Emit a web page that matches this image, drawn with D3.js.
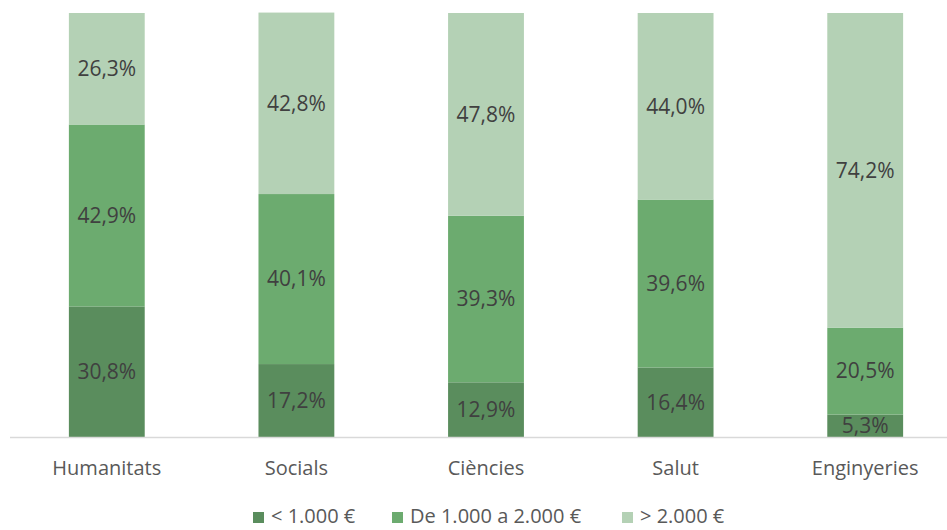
<!DOCTYPE html>
<html>
<head>
<meta charset="utf-8">
<script src="https://cdn.jsdelivr.net/npm/d3@7"></script>
<style>
  body { margin: 0; background: #fff; }
  text { font-family: "Open Sans", "Liberation Sans", sans-serif; }
</style>
</head>
<body>
<svg id="chart" width="947" height="530"></svg>
<script>
const categories = ["Humanitats", "Socials", "Ciències", "Salut", "Enginyeries"];
const seriesNames = ["< 1.000 €", "De 1.000 a 2.000 €", "> 2.000 €"];
const lowValues = [30.8, 17.2, 12.9, 16.4, 5.3];
const midValues = [42.9, 40.1, 39.3, 39.6, 20.5];
const highValues = [26.3, 42.8, 47.8, 44.0, 74.2];
const colors = ["#5a8d5d", "#6cab6f", "#b4d1b5"];

const svg = d3.select("#chart");
const baseY = 437, topY = 13;

const rows = categories.map((c, i) => ({
    cat: c, s0: lowValues[i], s1: midValues[i], s2: highValues[i]
}));
const stack = d3.stack().keys(["s0", "s1", "s2"]);
const series = stack(rows);

const x = d3.scaleBand().domain(categories).range([12, 960]).paddingInner(0.6).paddingOuter(0.3);
const y = d3.scaleLinear().domain([0, 100]).range([baseY, topY]);

const fmt = v => v.toFixed(1).replace(".", ",") + "%";

const groups = svg.append("g").selectAll("g")
    .data(series)
    .enter()
    .append("g")
    .attr("fill", (d, i) => colors[i]);

groups.selectAll("rect")
    .data(d => d)
    .enter()
    .append("rect")
    .attr("x", d => x(d.data.cat))
    .attr("width", x.bandwidth())
    .attr("y", d => y(d[1]))
    .attr("height", d => y(d[0]) - y(d[1]));

groups.selectAll("text")
    .data(d => d.map(v => ({ v, key: d.key })))
    .enter()
    .append("text")
    .attr("x", d => x(d.v.data.cat) + x.bandwidth() / 2)
    .attr("y", d => (y(d.v[0]) + y(d.v[1])) / 2)
    .attr("dy", "0.35em")
    .attr("text-anchor", "middle")
    .attr("fill", "#404040")
    .attr("font-size", 21)
    .text(d => fmt(d.v.data[d.key]));

// axis line
svg.append("line")
    .attr("x1", 10).attr("x2", 947)
    .attr("y1", baseY + 0.5).attr("y2", baseY + 0.5)
    .attr("stroke", "#d9d9d9").attr("stroke-width", 1.5);

// category labels
svg.append("g").selectAll("text")
    .data(categories)
    .enter()
    .append("text")
    .attr("x", d => x(d) + x.bandwidth() / 2)
    .attr("y", 468)
    .attr("dy", "0.35em")
    .attr("text-anchor", "middle")
    .attr("fill", "#595959")
    .attr("font-size", 20)
    .text(d => d);

// legend
const legendX = [253, 392, 622];
const legend = svg.append("g").selectAll("g")
    .data(seriesNames)
    .enter()
    .append("g")
    .attr("transform", (d, i) => `translate(${legendX[i]},517)`);
legend.append("rect")
    .attr("x", 0).attr("y", -5)
    .attr("width", 11).attr("height", 11)
    .attr("fill", (d, i) => colors[i]);
legend.append("text")
    .attr("x", 18).attr("y", 6)
    .attr("fill", "#595959")
    .attr("font-size", 20)
    .text(d => d);
</script>
</body>
</html>
